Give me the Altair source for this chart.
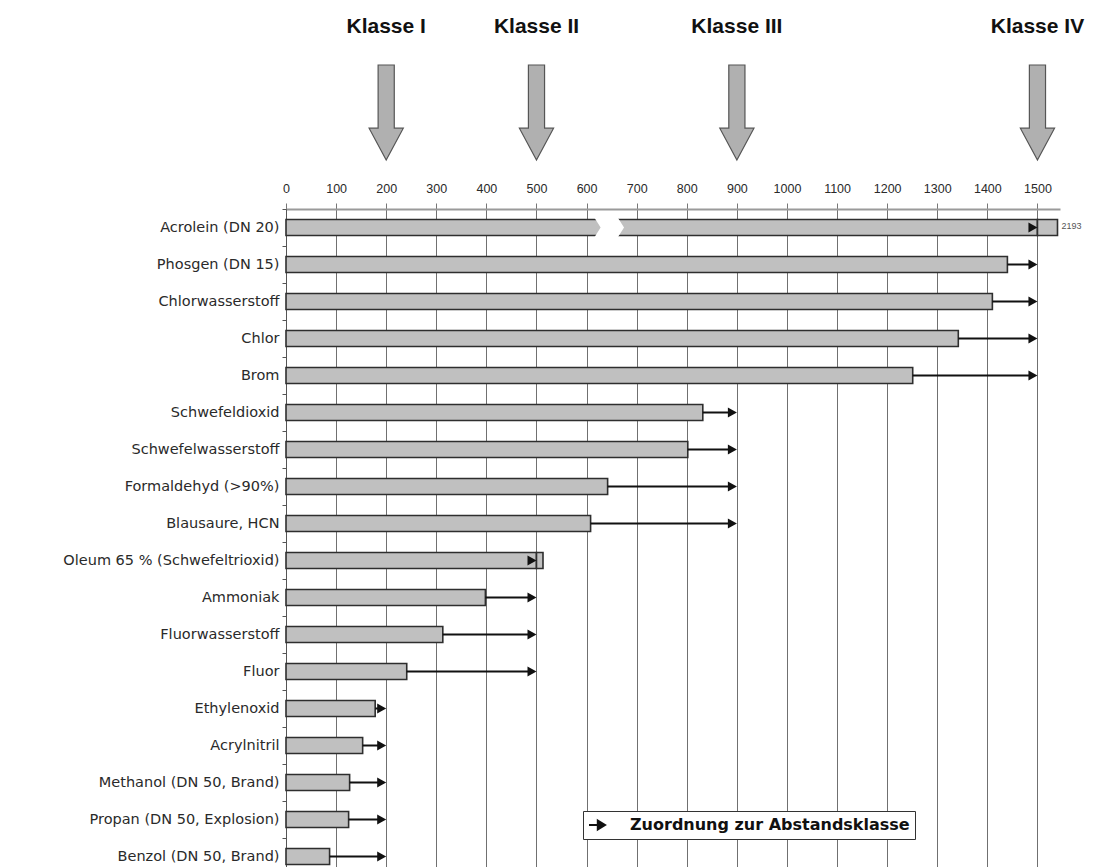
import altair as alt
import pandas as pd

# ---- data ----
substances = [
    "Acrolein (DN 20)", "Phosgen (DN 15)", "Chlorwasserstoff", "Chlor", "Brom",
    "Schwefeldioxid", "Schwefelwasserstoff", "Formaldehyd (>90%)", "Blausaure, HCN",
    "Oleum 65 % (Schwefeltrioxid)", "Ammoniak", "Fluorwasserstoff", "Fluor",
    "Ethylenoxid", "Acrylnitril", "Methanol (DN 50, Brand)",
    "Propan (DN 50, Explosion)", "Benzol (DN 50, Brand)",
]
distances = [2193, 1440, 1410, 1342, 1251, 832, 802, 642, 608, 513,
             398, 313, 241, 178, 153, 127, 125, 87]
assigned_class = [1500, 1500, 1500, 1500, 1500, 900, 900, 900, 900, 500,
                  500, 500, 500, 200, 200, 200, 200, 200]
class_values = [200, 500, 900, 1500]
class_labels = ["Klasse I", "Klasse II", "Klasse III", "Klasse IV"]
x_ticks = list(range(0, 1501, 100))
legend_label = "Zuordnung zur Abstandsklasse"

# ---- chart settings ----
X_MAX = 1545      # end of the value axis
BAR_CAP = 1540    # bars longer than the axis are cut here (Acrolein)
BREAK_AT = 640    # position of the axis break drawn in the Acrolein bar

df = pd.DataFrame({"name": substances, "value": distances, "cls": assigned_class})
df["shown"] = df["value"].clip(upper=BAR_CAP)
df["base_end"] = df[["shown", "cls"]].min(axis=1)
df["legend"] = legend_label

hdr = pd.DataFrame({"cls": class_values, "label": class_labels})

xscale = alt.Scale(domain=[0, X_MAX], nice=False, zero=True)
yenc = alt.Y(
    "name:N", sort=substances,
    scale=alt.Scale(paddingInner=0, paddingOuter=0),
    axis=alt.Axis(
        title=None, orient="left", domain=True, domainColor="#555", domainWidth=1,
        ticks=True, tickBand="extent", tickSize=4, tickColor="#555",
        labelFont="DejaVu Sans", labelFontSize=14.5, labelColor="#2a2a2a",
        labelPadding=3, labelLimit=400, grid=False,
    ),
)
xaxis = alt.Axis(
    title=None, orient="top", values=x_ticks, format="d", grid=True,
    gridColor="#707070", gridWidth=1, domain=True, domainColor="#9a9a9a",
    domainWidth=2, ticks=True, tickSize=6, tickColor="#777",
    labelFont="Liberation Sans", labelFontSize=12.5, labelColor="#2a2a2a",
    labelPadding=8, labelFlush=False,
)

base = alt.Chart(df)

bars = base.mark_bar(fill="#c0c0c0", stroke="#2e2e2e", strokeWidth=1.6, size=16).encode(
    x=alt.X("base_end:Q", scale=xscale, axis=xaxis),
    y=yenc,
)

over = base.transform_filter("datum.shown > datum.cls").mark_bar(
    fill="#c0c0c0", stroke="#2e2e2e", strokeWidth=1.6, size=16
).encode(x="cls:Q", x2="shown:Q", y=alt.Y("name:N", sort=substances))

break_path = "M -1 -0.8 L 0.95 -0.8 L 1.45 0 L 0.95 0.8 L -1 0.8 L -0.5 0 Z"
brk = base.transform_filter("datum.value > %d" % BAR_CAP).transform_calculate(
    brk=str(BREAK_AT)
).mark_point(shape=break_path, size=576, filled=True, fill="white",
             opacity=1, strokeWidth=0).encode(
    x="brk:Q", y=alt.Y("name:N", sort=substances)
)

lines = base.transform_filter("datum.value < datum.cls").mark_rule(
    color="#111", strokeWidth=2, x2Offset=-4
).encode(x="value:Q", x2="cls:Q", y=alt.Y("name:N", sort=substances))

head_path = "M 0 0 L -1.8 -1 L -1.8 1 Z"
heads = base.mark_point(shape=head_path, size=100, filled=True, opacity=1,
                        strokeWidth=0).encode(
    x="cls:Q",
    y=alt.Y("name:N", sort=substances),
    color=alt.Color(
        "legend:N",
        scale=alt.Scale(range=["#111"]),
        legend=alt.Legend(
            title=None, orient="none", legendX=297, legendY=602,
            symbolType="M -1 0 L 0.1 0 M 0.1 -0.55 L 1 0 L 0.1 0.55 Z",
            symbolSize=256, symbolStrokeColor="#111", symbolStrokeWidth=2,
            symbolFillColor="#111",
            labelFont="DejaVu Sans", labelFontSize=16, labelFontWeight="bold",
            labelColor="#111", labelOffset=24, labelLimit=600,
            padding=5, strokeColor="#333", fillColor="white",
        ),
    ),
)

cut_label = base.transform_filter("datum.value > %d" % BAR_CAP).mark_text(
    align="left", baseline="middle", dx=4, dy=-2, fontSize=9,
    font="Liberation Sans", color="#555"
).encode(x="shown:Q", y=alt.Y("name:N", sort=substances), text="value:Q")

headers = alt.Chart(hdr).mark_text(
    font="Liberation Sans", fontSize=21, fontWeight="bold", color="#111",
    baseline="middle", align="center"
).encode(x="cls:Q", y=alt.value(-182), text="label:N")

big_arrow = ("M -0.17 -1 L 0.17 -1 L 0.17 0.33 L 0.36 0.33 L 0 1 "
             "L -0.36 0.33 L -0.17 0.33 Z")
arrows = alt.Chart(hdr).mark_point(
    shape=big_arrow, size=9025, filled=True, fill="#b0b0b0", opacity=1,
    stroke="#555", strokeWidth=1.2
).encode(x="cls:Q", y=alt.value(-96.5))

chart = alt.layer(
    bars, over, brk, lines, heads, cut_label, headers, arrows
).properties(
    width=774, height=666,
    autosize=alt.AutoSizeParams(type="none"),
    padding={"left": 278, "top": 201, "right": 42, "bottom": 0},
    background="white",
).configure_view(stroke=None)

chart.save("out.html", embed_options={"renderer": "svg", "actions": False})
